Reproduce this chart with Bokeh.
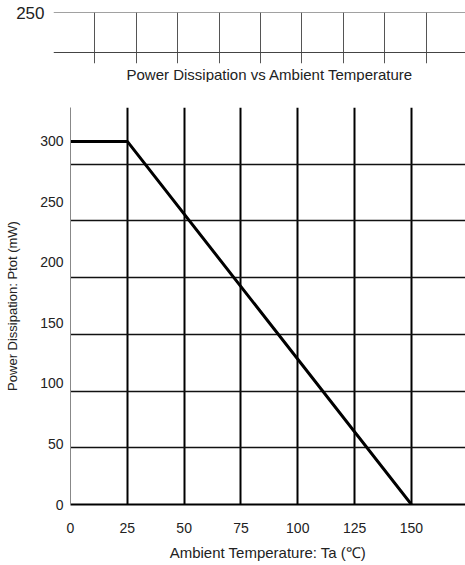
from bokeh.plotting import figure
from bokeh.models import FixedTicker, Range1d, Title
from bokeh.embed import file_html
from bokeh.resources import INLINE

# ---- data ----
temp_c = [0, 25, 150]
ptot_mw = [300, 300, 0]
x_ticks = [0, 25, 50, 75, 100, 125, 150]
y_ticks = [0, 50, 100, 150, 200, 250, 300]
x_end = 173.8
y_top = 328.0
n_rows = 7
grid_rows = [y_top * i / n_rows for i in range(n_rows + 1)]
grid_cols = [25, 50, 75, 100, 125, 150]

# fragment of the previous chart shown above
frag_cols = list(range(0, 10))
frag_rows = [200, 250]
frag_label_ticks = [250]
frag_x_end = 9.95
frag_y_start = 186.9

TITLE = "Power Dissipation vs Ambient Temperature"
FONT = "Liberation Sans"
TXT = "#222222"

# ---- top fragment (also carries the main chart's title underneath) ----
p1 = figure(width=465, height=82, output_backend="svg", toolbar_location=None,
            x_range=Range1d(0, frag_x_end), y_range=Range1d(frag_y_start, 250.4),
            x_axis_location=None, min_border_top=12, min_border_bottom=17,
            min_border_left=53, min_border_right=0)
p1.outline_line_color = None
p1.yaxis.ticker = FixedTicker(ticks=frag_label_ticks)
p1.yaxis.axis_line_color = None
p1.yaxis.major_tick_line_color = None
p1.yaxis.minor_tick_line_color = None
p1.yaxis.major_tick_out = 0
p1.yaxis.major_tick_in = 0
p1.yaxis.minor_tick_out = 0
p1.yaxis.major_label_standoff = 9
p1.yaxis.major_label_text_font = FONT
p1.yaxis.major_label_text_font_size = "17px"
p1.yaxis.major_label_text_color = TXT
p1.yaxis.major_label_text_baseline = "top"
p1.xgrid.ticker = FixedTicker(ticks=frag_cols)
p1.xgrid.grid_line_color = "#555555"
p1.xgrid.grid_line_width = 1
p1.ygrid.ticker = FixedTicker(ticks=frag_rows)
p1.ygrid.grid_line_color = "#444444"
p1.ygrid.grid_line_width = 1.2
p1.scatter([0], [250], size=0, alpha=0)
p1.add_layout(Title(text=TITLE, align="left", offset=73, standoff=0,
                    text_font=FONT, text_font_size="15px",
                    text_font_style="normal", text_color=TXT), "below")

# ---- main chart ----
p = figure(width=465, height=483, output_backend="svg", toolbar_location=None,
           x_range=Range1d(0, x_end), y_range=Range1d(0, y_top),
           min_border_top=25, min_border_left=70, min_border_right=0,
           min_border_bottom=61)
p.outline_line_color = None

p.xgrid.ticker = FixedTicker(ticks=grid_cols)
p.xgrid.grid_line_color = "#000000"
p.xgrid.grid_line_width = 2
p.ygrid.ticker = FixedTicker(ticks=grid_rows[1:])
p.ygrid.grid_line_color = "#111111"
p.ygrid.grid_line_width = 1.6

p.xaxis.ticker = FixedTicker(ticks=x_ticks)
p.yaxis.ticker = FixedTicker(ticks=y_ticks)
for ax in (p.xaxis, p.yaxis):
    ax.major_tick_line_color = None
    ax.minor_tick_line_color = None
    ax.major_tick_out = 0
    ax.major_tick_in = 0
    ax.minor_tick_out = 0
    ax.major_label_text_font = FONT
    ax.major_label_text_font_size = "14px"
    ax.major_label_text_color = TXT
    ax.axis_label_text_font = FONT
    ax.axis_label_text_font_style = "normal"
    ax.axis_label_text_color = TXT
p.xaxis.axis_line_color = "#000000"
p.xaxis.axis_line_width = 2
p.yaxis.axis_line_color = "#888888"
p.yaxis.axis_line_width = 1
p.xaxis.major_label_standoff = 18
p.yaxis.major_label_standoff = 7
p.xaxis.axis_label = "Ambient Temperature: Ta (\u2103)"
p.xaxis.axis_label_text_font_size = "15px"
p.xaxis.axis_label_standoff = 8
p.yaxis.axis_label = "Power Dissipation: Ptot (mW)"
p.yaxis.axis_label_text_font_size = "13px"
p.yaxis.axis_label_standoff = 17

p.line(temp_c, ptot_mw, line_color="#000000", line_width=3)

open("out.html", "w").write(file_html([p1, p], INLINE))
